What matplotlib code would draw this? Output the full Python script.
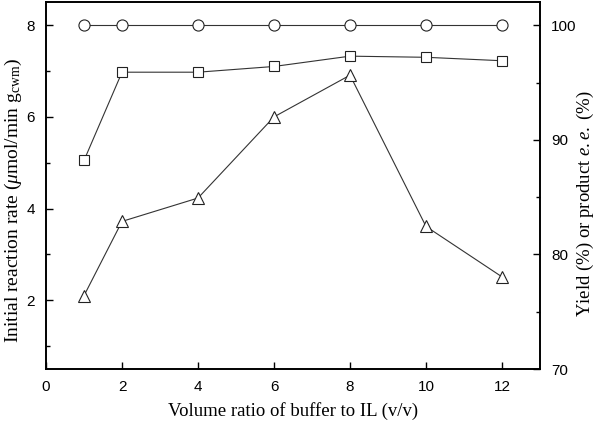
import matplotlib
matplotlib.use("Agg")
import matplotlib.pyplot as plt
from matplotlib.ticker import MultipleLocator

# Data
ratio = [1, 2, 4, 6, 8, 10, 12]
initial_rate = [2.1, 3.72, 4.23, 6.0, 6.91, 3.61, 2.51]     # left axis, triangles
yield_pct = [88.2, 95.9, 95.9, 96.4, 97.3, 97.2, 96.9]      # right axis, squares
ee_pct = [100, 100, 100, 100, 100, 100, 100]                # right axis, circles

plt.rcParams['mathtext.fontset'] = 'custom'
plt.rcParams['mathtext.rm'] = 'Liberation Serif'
plt.rcParams['mathtext.it'] = 'Liberation Serif:italic'

fig = plt.figure(figsize=(6, 4.24), dpi=100)
ax = fig.add_axes([0.0767, 0.1297, 0.9 - 0.0767, 0.9946 - 0.1297])
ax2 = ax.twinx()

lc = '#333333'
ax.plot(ratio, initial_rate, '-', color=lc, lw=0.8, marker='^', ms=8,
        mfc='white', mec='#222222', mew=0.8)
ax2.plot(ratio, yield_pct, '-', color=lc, lw=0.8, marker='s', ms=6.5,
         mfc='white', mec='#222222', mew=0.8)
ax2.plot(ratio, ee_pct, '-', color=lc, lw=0.8, marker='o', ms=8,
         mfc='white', mec='#222222', mew=0.8)

ax.set_xlim(0, 13)
ax.set_ylim(0.5, 8.5)
ax2.set_ylim(70, 102)

ax.xaxis.set_major_locator(MultipleLocator(2))
ax.yaxis.set_major_locator(MultipleLocator(2))
ax.yaxis.set_minor_locator(MultipleLocator(1))
ax2.yaxis.set_major_locator(MultipleLocator(10))
ax2.yaxis.set_minor_locator(MultipleLocator(5))

for a in (ax, ax2):
    for s in a.spines.values():
        s.set_linewidth(1.2)
ax.tick_params(axis='x', which='both', direction='in', top=False, length=5, width=1, labelsize=11, pad=8)
ax.tick_params(axis='y', which='major', direction='in', length=5, width=1, labelsize=11, pad=8)
ax.tick_params(axis='y', which='minor', direction='in', length=3, width=1)
ax2.tick_params(axis='y', which='major', direction='in', length=5, width=1, labelsize=11, pad=8)
ax2.tick_params(axis='y', which='minor', direction='in', length=3, width=1)

for lab in ax.get_xticklabels() + ax.get_yticklabels() + ax2.get_yticklabels():
    lab.set_family('Liberation Sans')

ax.set_xlabel('Volume ratio of buffer to IL (v/v)', family='Liberation Serif', fontsize=13.5, labelpad=6)
ax.set_ylabel(r'Initial reaction rate ($\mathit{\mu}$mol/min g$_{\mathrm{cwm}}$)',
              family='Liberation Serif', fontsize=14)
ax.yaxis.set_label_coords(-0.045, 0.46)
ax2.set_ylabel(r'Yield (%) or product $\mathit{e.e.}$ (%)', family='Liberation Serif',
               fontsize=13.5)
ax2.yaxis.set_label_coords(1.071, 0.45)

fig.savefig('out.png', dpi=100)
